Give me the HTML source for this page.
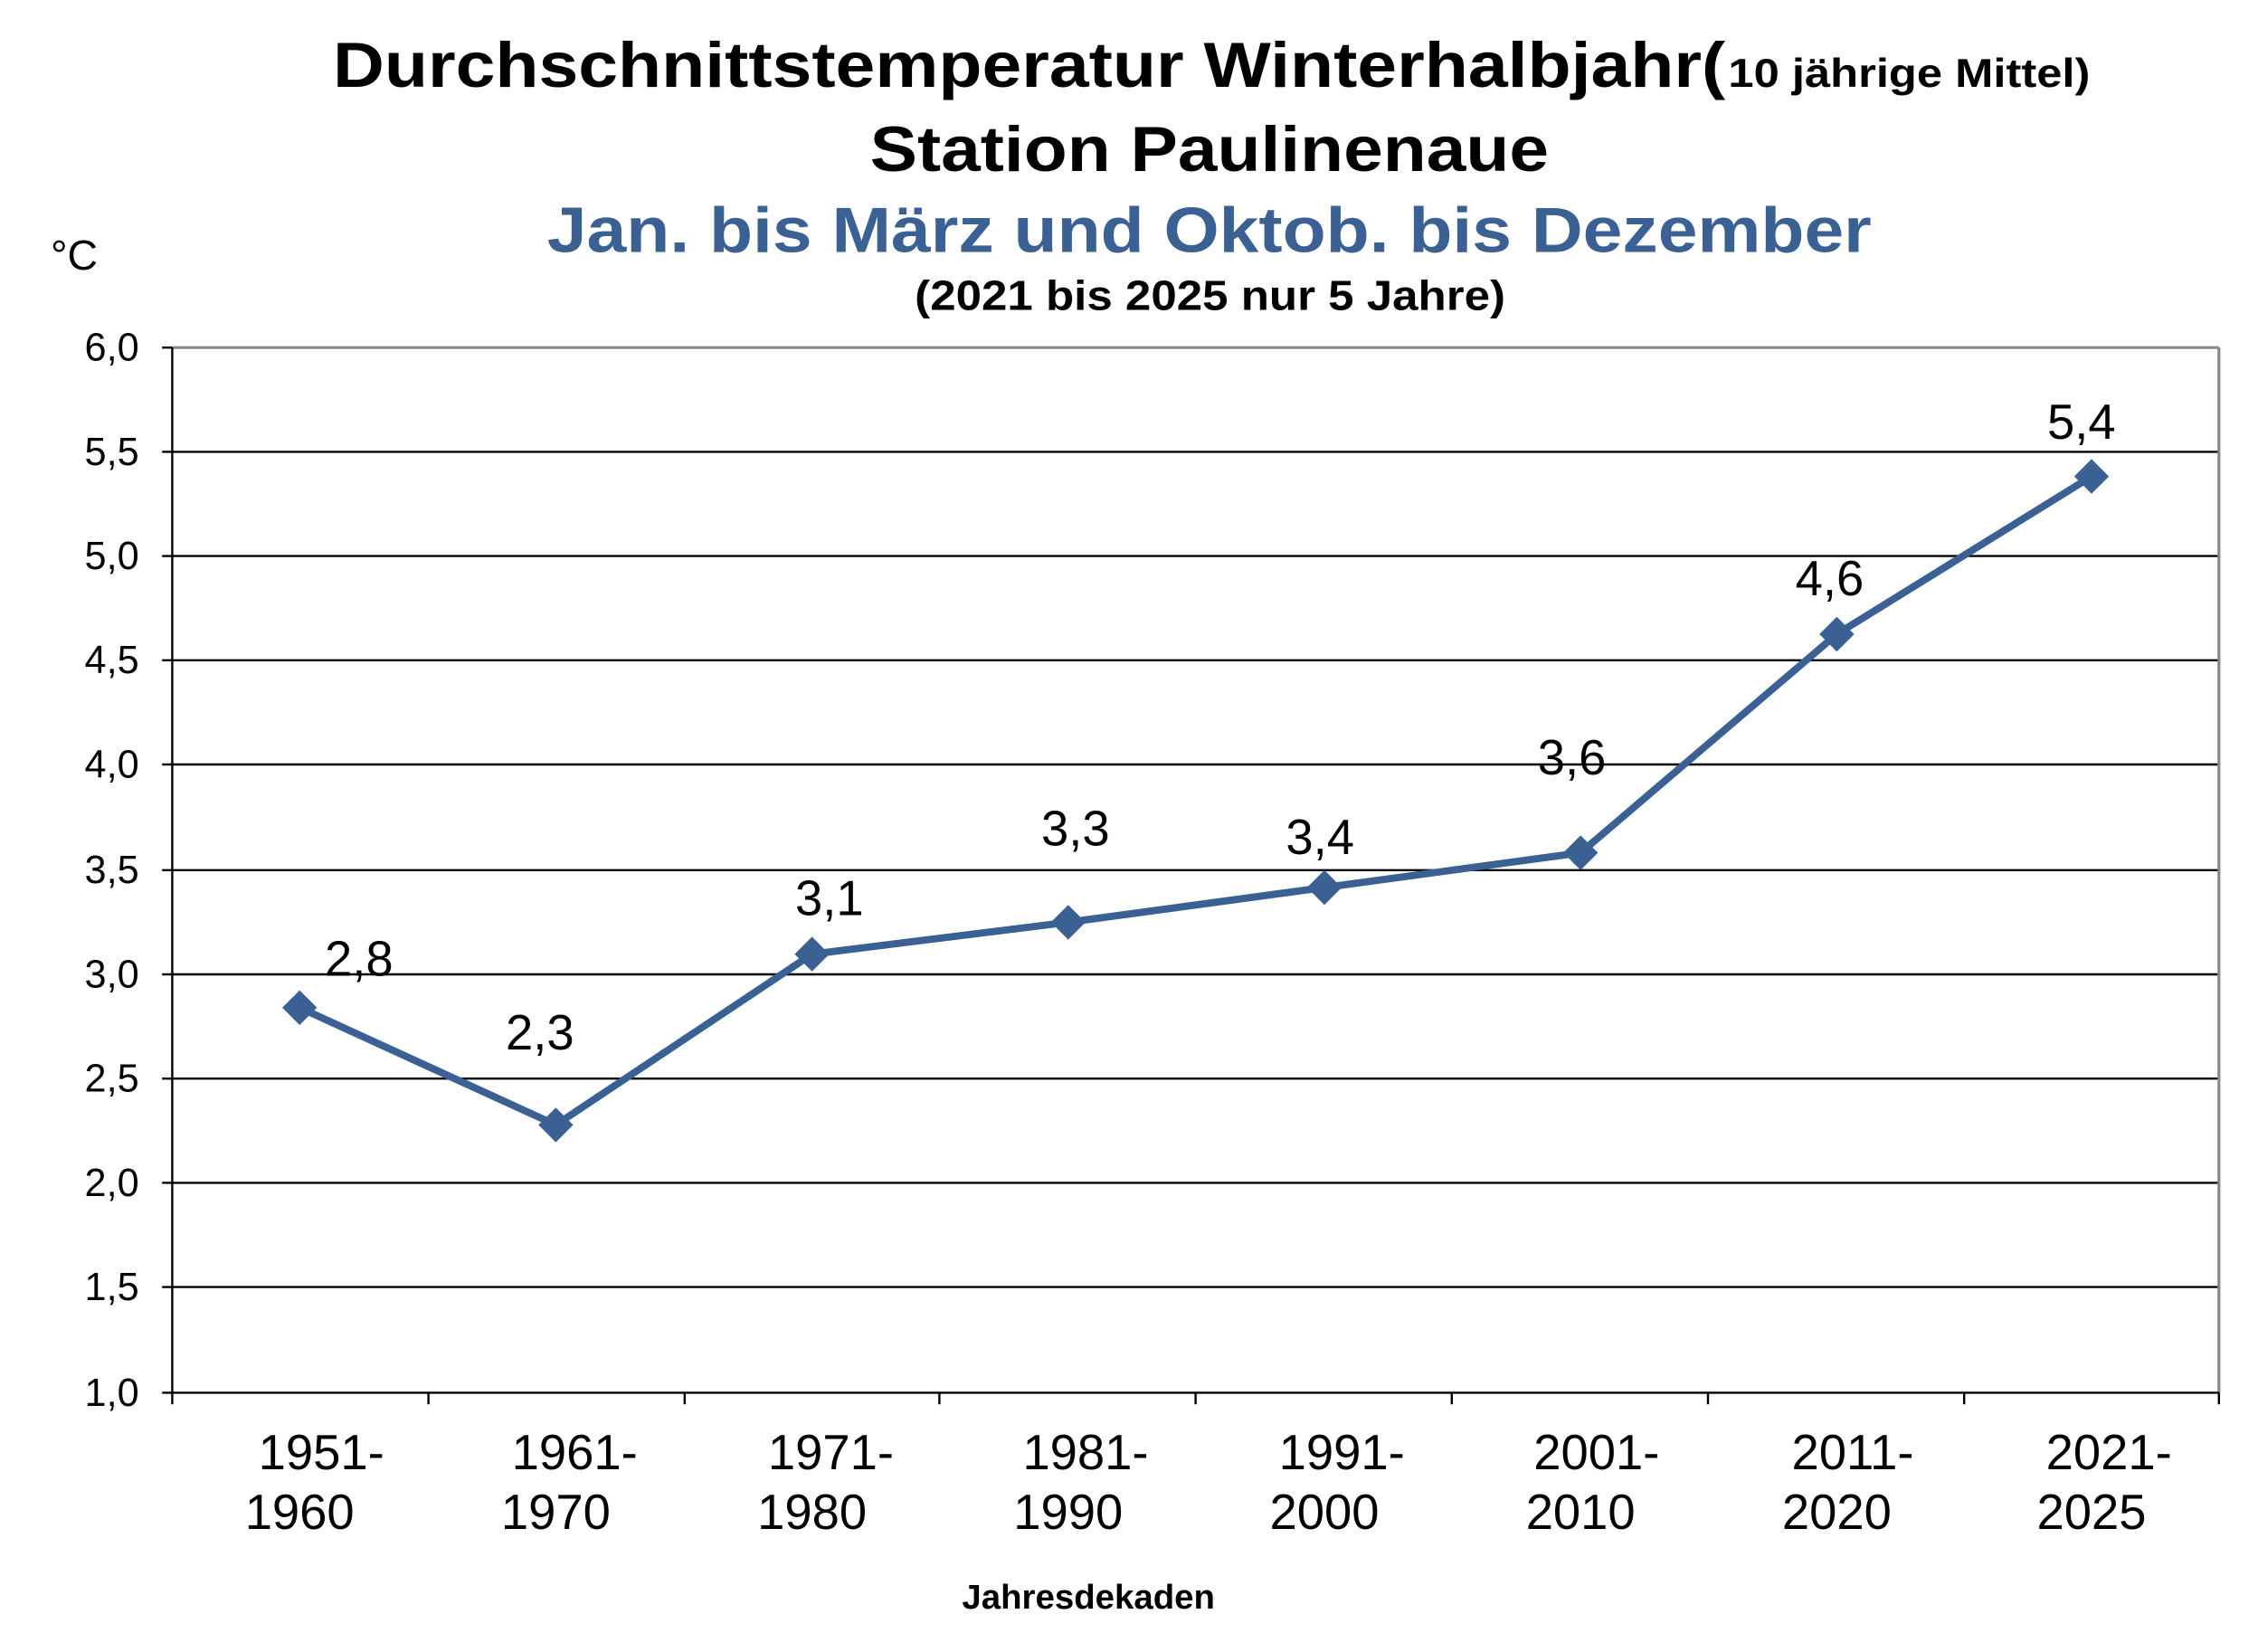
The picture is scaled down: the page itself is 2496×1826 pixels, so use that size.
<!DOCTYPE html>
<html><head><meta charset="utf-8"><style>html,body{margin:0;padding:0;background:#fff}svg{display:block}</style></head>
<body>
<svg width="2496" height="1826" viewBox="0 0 1560 1141" xmlns="http://www.w3.org/2000/svg" font-family="Liberation Sans, Arial, sans-serif">
<rect width="1560" height="1141" fill="#fff"/>
<text x="230" y="60" font-size="44" font-weight="bold" textLength="962" lengthAdjust="spacingAndGlyphs">Durchschnittstemperatur Winterhalbjahr(</text>
<text x="1194" y="60" font-size="28" font-weight="bold" textLength="250" lengthAdjust="spacingAndGlyphs">10 jährige Mittel)</text>
<text x="601" y="118" font-size="44" font-weight="bold" textLength="469" lengthAdjust="spacingAndGlyphs">Station Paulinenaue</text>
<text x="378" y="174" font-size="44" font-weight="bold" fill="#3a6094" textLength="915" lengthAdjust="spacingAndGlyphs">Jan. bis März und Oktob. bis Dezember</text>
<text x="632" y="214" font-size="29" font-weight="bold" textLength="408" lengthAdjust="spacingAndGlyphs">(2021 bis 2025 nur 5 Jahre)</text>
<text x="35" y="186" font-size="29">°C</text>
<g stroke="#000" stroke-width="1.5">
<line x1="119" y1="312" x2="1533" y2="312"/><line x1="119" y1="384" x2="1533" y2="384"/>
<line x1="119" y1="456" x2="1533" y2="456"/><line x1="119" y1="528" x2="1533" y2="528"/>
<line x1="119" y1="601" x2="1533" y2="601"/><line x1="119" y1="673" x2="1533" y2="673"/>
<line x1="119" y1="745" x2="1533" y2="745"/><line x1="119" y1="817" x2="1533" y2="817"/>
<line x1="119" y1="889" x2="1533" y2="889"/>
</g>
<line x1="119" y1="240" x2="1533" y2="240" stroke="#888" stroke-width="2"/>
<line x1="1533" y1="240" x2="1533" y2="962" stroke="#888" stroke-width="2"/>
<line x1="119" y1="240" x2="119" y2="962" stroke="#000" stroke-width="1.5"/>
<line x1="112" y1="962" x2="1533" y2="962" stroke="#000" stroke-width="1.5"/>
<g stroke="#000" stroke-width="1.5">
<line x1="112" y1="240" x2="119" y2="240"/><line x1="112" y1="312" x2="119" y2="312"/><line x1="112" y1="384" x2="119" y2="384"/><line x1="112" y1="456" x2="119" y2="456"/><line x1="112" y1="528" x2="119" y2="528"/><line x1="112" y1="601" x2="119" y2="601"/><line x1="112" y1="673" x2="119" y2="673"/><line x1="112" y1="745" x2="119" y2="745"/><line x1="112" y1="817" x2="119" y2="817"/><line x1="112" y1="889" x2="119" y2="889"/>
<line x1="119" y1="962" x2="119" y2="970"/><line x1="296" y1="962" x2="296" y2="970"/><line x1="473" y1="962" x2="473" y2="970"/><line x1="649" y1="962" x2="649" y2="970"/><line x1="826" y1="962" x2="826" y2="970"/><line x1="1003" y1="962" x2="1003" y2="970"/><line x1="1180" y1="962" x2="1180" y2="970"/><line x1="1357" y1="962" x2="1357" y2="970"/><line x1="1533" y1="962" x2="1533" y2="970"/>
</g>
<g font-size="27" text-anchor="end">
<text x="96" y="249">6,0</text><text x="96" y="321">5,5</text><text x="96" y="393">5,0</text><text x="96" y="465">4,5</text><text x="96" y="537">4,0</text><text x="96" y="610">3,5</text><text x="96" y="682">3,0</text><text x="96" y="754">2,5</text><text x="96" y="826">2,0</text><text x="96" y="898">1,5</text><text x="96" y="971">1,0</text>
</g>
<g font-size="34" text-anchor="middle">
<text x="222" y="1015">1951-</text><text x="207" y="1056">1960</text>
<text x="397" y="1015">1961-</text><text x="384" y="1056">1970</text>
<text x="574" y="1015">1971-</text><text x="561" y="1056">1980</text>
<text x="750" y="1015">1981-</text><text x="738" y="1056">1990</text>
<text x="927" y="1015">1991-</text><text x="915" y="1056">2000</text>
<text x="1103" y="1015">2001-</text><text x="1092" y="1056">2010</text>
<text x="1280" y="1015">2011-</text><text x="1269" y="1056">2020</text>
<text x="1457" y="1015">2021-</text><text x="1445" y="1056">2025</text>
</g>
<text x="752" y="1111" font-size="24" font-weight="bold" text-anchor="middle">Jahresdekaden</text>
<polyline fill="none" stroke="#3a6094" stroke-width="5" stroke-linejoin="round" points="207,696 384,777 561,659 738,637 915,613 1092,589 1269,438 1445,329"/>
<g fill="#3a6094">
<path d="M207,684 L219,696 L207,708 L195,696Z"/><path d="M384,765 L396,777 L384,789 L372,777Z"/>
<path d="M561,647 L573,659 L561,671 L549,659Z"/><path d="M738,625 L750,637 L738,649 L726,637Z"/>
<path d="M915,601 L927,613 L915,625 L903,613Z"/><path d="M1092,577 L1104,589 L1092,601 L1080,589Z"/>
<path d="M1269,426 L1281,438 L1269,450 L1257,438Z"/><path d="M1445,317 L1457,329 L1445,341 L1433,329Z"/>
</g>
<g font-size="34" text-anchor="middle">
<text x="248" y="674">2,8</text><text x="373" y="725">2,3</text><text x="573" y="632">3,1</text><text x="743" y="584">3,3</text><text x="912" y="590">3,4</text><text x="1086" y="535">3,6</text><text x="1264" y="411">4,6</text><text x="1438" y="303">5,4</text>
</g>
</svg>
</body></html>
